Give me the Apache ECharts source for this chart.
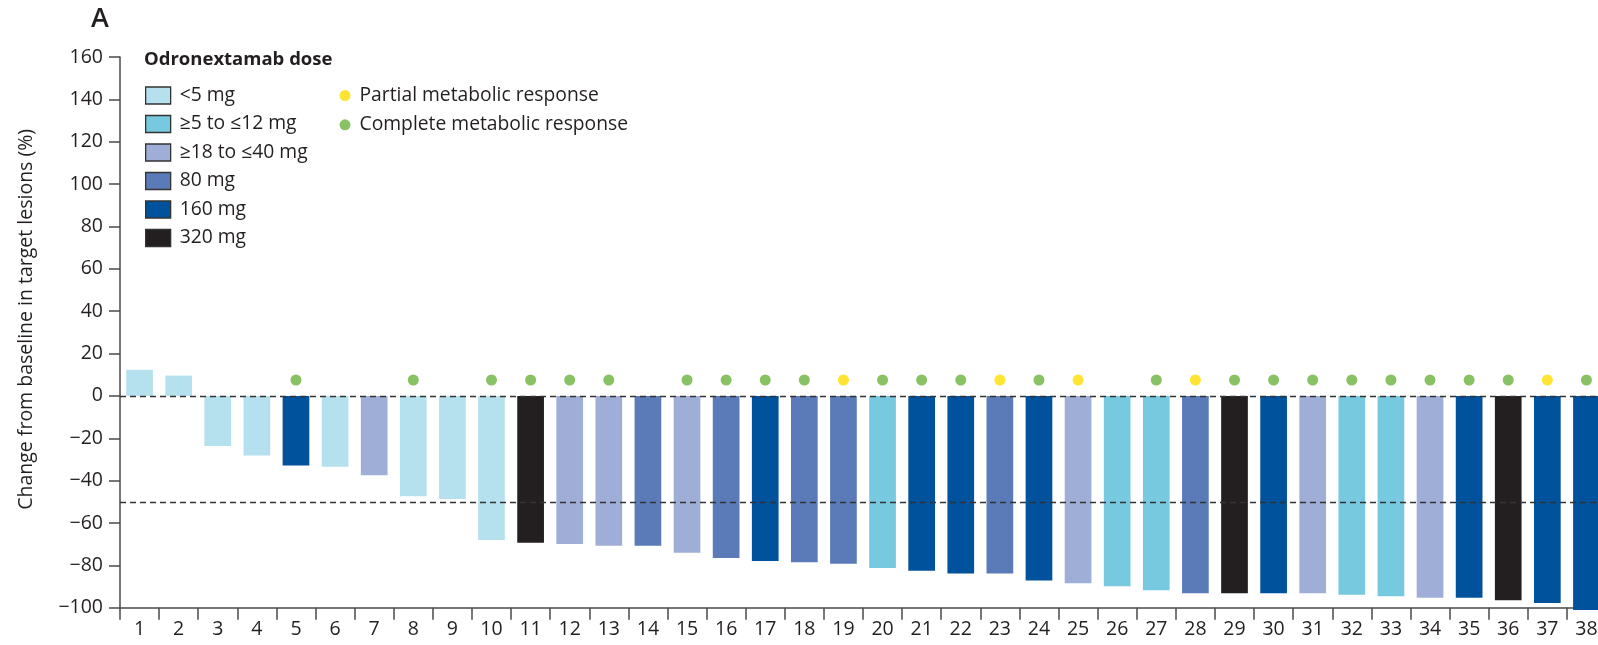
<!DOCTYPE html>
<html>
<head>
<meta charset="utf-8">
<script src="https://cdn.jsdelivr.net/npm/echarts@6/dist/echarts.min.js"></script>
<style>
  html, body { margin: 0; padding: 0; background: #fff; overflow: hidden; }
  #chart { width: 1606px; height: 645px; }
</style>
</head>
<body>
<div id="chart"></div>
<script>
// ---- data ----
const categories = ['1','2','3','4','5','6','7','8','9','10','11','12','13','14','15','16','17','18','19','20',
  '21','22','23','24','25','26','27','28','29','30','31','32','33','34','35','36','37','38'];
const changes = [12.3, 9.6, -23.6, -28.2, -32.9, -33.5, -37.5, -47.4, -48.7, -68.0,
  -69.3, -69.9, -70.7, -70.7, -74.0, -76.5, -78.0, -78.6, -79.2, -81.3,
  -82.5, -83.9, -83.9, -87.2, -88.5, -89.9, -91.8, -93.2, -93.2, -93.2,
  -93.2, -93.9, -94.6, -95.3, -95.3, -96.5, -97.8, -101.1];
const doseLabels = ['<5 mg', '\u22655 to \u226412 mg', '\u226518 to \u226440 mg', '80 mg', '160 mg', '320 mg'];
// dose group index per patient (0..5 into doseLabels)
const doses = [0, 0, 0, 0, 4, 0, 2, 0, 0, 0,
  5, 2, 2, 3, 2, 3, 4, 3, 3, 1,
  4, 4, 3, 4, 2, 1, 1, 3, 5, 4,
  2, 1, 1, 2, 4, 5, 4, 4];
const responseLabels = ['Partial metabolic response', 'Complete metabolic response'];
// 'P' partial, 'C' complete, '' none
const responses = ['', '', '', '', 'C', '', '', 'C', '', 'C',
  'C', 'C', 'C', '', 'C', 'C', 'C', 'C', 'P', 'C',
  'C', 'C', 'P', 'C', 'P', '', 'C', 'P', 'C', 'C',
  'C', 'C', 'C', 'C', 'C', 'C', 'P', 'C'];
const responseMarkerValue = 7.5;
const yTicks = { min: -100, max: 160, interval: 20 };
const refLines = [0, -50];

// ---- styles ----
const doseColors = ['#b5e1ee', '#77c9e0', '#9eaed6', '#5b7bb8', '#00529c', '#231f20'];
const responseColors = ['#ffdd00', '#6cb33f'];
const FONT = '"Open Sans", "Noto Sans", sans-serif';
const TXT = '#231f20';
const AXIS = '#4a4a4a';

const barSeries = doseLabels.map((lab, g) => ({
  name: lab,
  type: 'bar',
  barWidth: 26.7,
  barGap: '-100%',
  clip: false,
  itemStyle: { color: doseColors[g] },
  data: changes.map((v, i) => doses[i] === g ? v : '-')
}));

const dotSeries = ['P', 'C'].map((code, k) => ({
  name: responseLabels[k],
  type: 'scatter',
  symbol: 'circle',
  symbolSize: 11,
  z: 4,
  itemStyle: { color: responseColors[k] },
  data: responses.map(r => r === code ? responseMarkerValue : '-')
}));

dotSeries[1].markLine = {
  silent: true,
  symbol: 'none',
  label: { show: false },
  lineStyle: { type: [6, 4], color: '#333', width: 1.3 },
  data: refLines.map(v => ({ yAxis: v })),
  z: 5
};

const option = {
  animation: false,
  backgroundColor: '#fff',
  textStyle: { fontFamily: FONT, color: TXT },
  title: [
    { text: 'A', left: 91, top: 6, padding: 0,
      textStyle: { fontFamily: FONT, fontSize: 27, fontWeight: 600, color: TXT } },
    { text: 'Odronextamab dose', left: 144, top: 50, padding: 0,
      textStyle: { fontFamily: FONT, fontSize: 18.5, fontWeight: 'bold', color: TXT } }
  ],
  legend: [
    {
      data: doseLabels,
      orient: 'vertical',
      left: 145, top: 86,
      padding: 0,
      itemWidth: 25, itemHeight: 17,
      itemGap: 9.5,
      icon: 'rect',
      itemStyle: { borderColor: '#333', borderWidth: 1.3 },
      textStyle: { fontFamily: FONT, fontSize: 19.3, lineHeight: 18, color: TXT, padding: [0, 0, 0, 4] },
      selectedMode: false
    },
    {
      data: responseLabels,
      orient: 'vertical',
      left: 339.5, top: 86,
      padding: 0,
      itemWidth: 11, itemHeight: 11,
      itemGap: 10.3,
      icon: 'circle',
      textStyle: { fontFamily: FONT, fontSize: 19.3, lineHeight: 18, color: TXT, padding: [0, 0, 0, 4] },
      selectedMode: false
    }
  ],
  grid: { left: 120, right: 0, top: 57, bottom: 37.3, containLabel: false },
  xAxis: {
    type: 'category',
    data: categories,
    boundaryGap: true,
    axisLine: { show: true, onZero: false, lineStyle: { color: AXIS, width: 1.5 } },
    axisTick: { show: true, inside: false, length: 12, lineStyle: { color: AXIS, width: 1.5 } },
    axisLabel: { fontFamily: FONT, fontSize: 19.5, color: TXT, margin: 12, interval: 0 },
    splitLine: { show: false }
  },
  yAxis: {
    type: 'value',
    min: yTicks.min, max: yTicks.max, interval: yTicks.interval,
    name: 'Change from baseline in target lesions (%)',
    nameLocation: 'middle',
    nameGap: 84,
    nameTextStyle: { fontFamily: FONT, fontSize: 19.5, color: TXT, padding: [0, 0, 0, 26] },
    axisLine: { show: true, onZero: false, lineStyle: { color: AXIS, width: 1.5 } },
    axisTick: { show: true, inside: false, length: 11, lineStyle: { color: AXIS, width: 1.5 } },
    axisLabel: {
      fontFamily: FONT, fontSize: 19.5, color: TXT, margin: 17,
      formatter: v => String(v).replace('-', '\u2212')
    },
    splitLine: { show: false }
  },
  series: barSeries.concat(dotSeries)
};

const chart = echarts.init(document.getElementById('chart'), null, { renderer: 'canvas' });
chart.setOption(option);
</script>
</body>
</html>
